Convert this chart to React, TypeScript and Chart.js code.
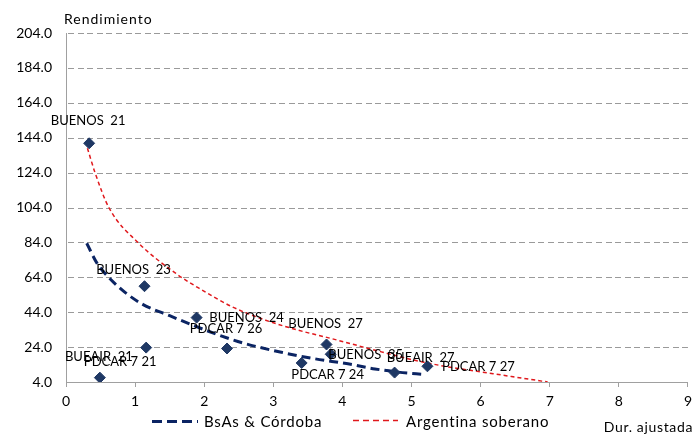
import React, { useEffect, useRef } from "react";
import { Chart, registerables } from "chart.js";

Chart.register(...registerables);

// Bond points (duration, yield)
const bondNames = [
  "BUENOS  21",
  "BUENOS  23",
  "BUEAIR  21",
  "PDCAR 7 21",
  "BUENOS  24",
  "PDCAR 7 26",
  "BUENOS  27",
  "PDCAR 7 24",
  "BUENOS  35",
  "BUEAIR  27",
  "PDCAR 7 27",
];
const bondDur = [0.335, 1.136, 0.49, 1.16, 1.89, 2.33, 3.77, 3.41, 3.83, 4.755, 5.23];
const bondYield = [140.8, 58.9, 6.5, 23.7, 40.9, 23.2, 25.5, 14.9, 19.9, 9.4, 13.0];

// Label offsets (pixels) of each data label relative to its point
const labelDx = [-1, -11, -1, -26, 50, -1, -1, 26, 35, 26, 51];
const labelDy = [-22, -16, -21, 14, 0, -20, -21, 12, 1, -15, 1];

// Trend line "BsAs & Córdoba"
const bsasDur = [0.3, 0.45, 0.63, 0.85, 1.11, 1.5, 2.02, 2.55, 3.12, 3.6, 4.08, 4.47, 4.8, 5.2];
const bsasYield = [83.5, 72, 63.5, 55.5, 48.5, 42, 33.7, 26.5, 21, 17.3, 14.4, 11.5, 9.7, 8.3];

// Trend line "Argentina soberano"
const argDur = [0.31, 0.42, 0.62, 1.04, 1.59, 1.93, 2.41, 2.89, 3.36, 3.84, 4.55, 5.03, 5.51, 5.99, 6.47, 6.97];
const argYield = [138, 124, 104, 84, 66.2, 57.6, 47.0, 39.4, 33.7, 28.9, 21.4, 16.6, 12.8, 9.9, 7.0, 4.0];

const seriesNames = ["BsAs & Córdoba", "Argentina soberano"];
const yTitle = "Rendimiento";
const xTitle = "Dur. ajustada";

const FONT = "Lato";
const NAVY_POINT = "#1F3864";
const NAVY_LINE = "#0B2463";
const RED = "#E0181C";
const GRID = "#9A9A9A";
const AXIS = "#A0A0A0";

const gridPlugin = {
  id: "dashedGrid",
  beforeDatasetsDraw(chart: any) {
    const ctx = chart.ctx;
    const y = chart.scales.y;
    const { left, right } = chart.chartArea;
    ctx.save();
    ctx.fillStyle = GRID;
    y.ticks.forEach((t: any) => {
      if (t.value <= y.min) return;
      const py = Math.round(y.getPixelForValue(t.value));
      for (let x = left + 2; x < right; x += 9.6) {
        const x0 = Math.round(x);
        const w = Math.min(6, right - x0);
        if (w > 0) ctx.fillRect(x0, py, w, 1);
      }
    });
    ctx.restore();
  },
};

const labelsPlugin = {
  id: "bondLabels",
  afterDatasetsDraw(chart: any) {
    const meta = chart.getDatasetMeta(0);
    const ctx = chart.ctx;
    ctx.save();
    ctx.font = `13px ${FONT}`;
    ctx.fillStyle = "#000";
    ctx.textAlign = "center";
    ctx.textBaseline = "middle";
    meta.data.forEach((el: any, i: number) => {
      ctx.fillText(bondNames[i], el.x + labelDx[i], el.y + labelDy[i]);
    });
    ctx.restore();
  },
};

const decorPlugin = {
  id: "decor",
  afterDraw(chart: any) {
    const ctx = chart.ctx;
    ctx.save();
    ctx.fillStyle = "#000";
    ctx.textBaseline = "middle";
    ctx.font = `14px ${FONT}`;
    ctx.textAlign = "left";
    (ctx as any).letterSpacing = "1px";
    ctx.fillText(yTitle, 64, 19);
    (ctx as any).letterSpacing = "0.65px";
    ctx.textAlign = "right";
    ctx.fillText(xTitle, 693, 427);

    // legend
    const legend = [
      { x1: 152, x2: 198, y: 421.5, tx: 204, color: NAVY_LINE, w: 3, dash: [10, 5] },
      { x1: 353, x2: 398, y: 420.5, tx: 406, color: RED, w: 1.5, dash: [6, 4] },
    ];
    legend.forEach((l, i) => {
      ctx.beginPath();
      ctx.setLineDash(l.dash);
      ctx.strokeStyle = l.color;
      ctx.lineWidth = l.w;
      ctx.moveTo(l.x1, l.y);
      ctx.lineTo(l.x2, l.y);
      ctx.stroke();
      ctx.setLineDash([]);
      ctx.font = `15px ${FONT}`;
      (ctx as any).letterSpacing = "0.8px";
      ctx.textAlign = "left";
      ctx.fillText(seriesNames[i], l.tx, 422);
    });
    ctx.restore();
  },
};

export default function App() {
  const ref = useRef<HTMLCanvasElement>(null);
  useEffect(() => {
    if (!ref.current) return;
    const chart = new Chart(ref.current, {
      type: "scatter",
      data: {
        datasets: [
          {
            label: "Bonos",
            data: bondDur.map((x, i) => ({ x, y: bondYield[i] })),
            pointStyle: "rectRot",
            pointRadius: 5.5,
            backgroundColor: NAVY_POINT,
            borderColor: NAVY_POINT,
            borderWidth: 1,
            showLine: false,
          },
          {
            label: seriesNames[0],
            data: bsasDur.map((x, i) => ({ x, y: bsasYield[i] })),
            showLine: true,
            pointRadius: 0,
            borderColor: NAVY_LINE,
            borderWidth: 3,
            borderDash: [9, 5],
            cubicInterpolationMode: "monotone",
            fill: false,
          },
          {
            label: seriesNames[1],
            data: argDur.map((x, i) => ({ x, y: argYield[i] })),
            showLine: true,
            pointRadius: 0,
            borderColor: RED,
            borderWidth: 1.5,
            borderDash: [4, 3],
            cubicInterpolationMode: "monotone",
            fill: false,
          },
        ],
      },
      options: {
        animation: false,
        responsive: false,
        layout: { padding: { left: 0, top: 33, right: 6, bottom: 0 } },
        plugins: { legend: { display: false }, tooltip: { enabled: false } },
        scales: {
          x: {
            type: "linear",
            min: 0,
            max: 9,
            ticks: { stepSize: 1, color: "#000", font: { family: FONT, size: 14 }, padding: 6, maxRotation: 0 },
            grid: { display: true, drawOnChartArea: false, drawTicks: true, tickLength: 5, color: AXIS },
            border: { display: true, color: AXIS, width: 1 },
            afterFit: (s: any) => {
              s.height = 56;
            },
          },
          y: {
            type: "linear",
            min: 4,
            max: 204,
            ticks: {
              stepSize: 20,
              color: "#000",
              font: { family: FONT, size: 14 },
              padding: 14,
              callback: (v: any) => Number(v).toFixed(1),
            },
            grid: { display: false, drawTicks: false },
            border: { display: true, color: AXIS, width: 1 },
            afterFit: (s: any) => {
              s.width = 66;
            },
          },
        },
      },
      plugins: [gridPlugin, labelsPlugin, decorPlugin],
    });
    return () => chart.destroy();
  }, []);
  return (
    <div style={{ position: "fixed", left: 0, top: 0, width: 698, height: 438, background: "#fff" }}>
      <canvas ref={ref} width={698} height={438} style={{ display: "block" }} />
    </div>
  );
}
